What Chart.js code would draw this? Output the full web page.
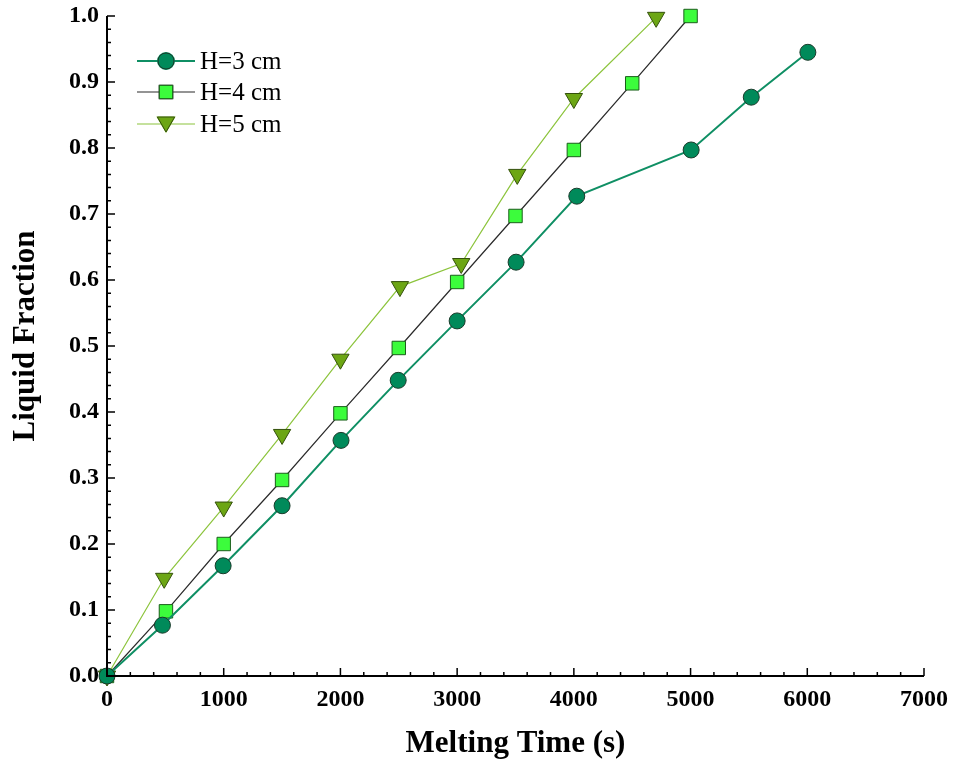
<!DOCTYPE html>
<html>
<head>
<meta charset="utf-8">
<script src="https://cdn.jsdelivr.net/npm/chart.js@4"></script>
<style>
  html, body { margin: 0; padding: 0; background: #fff; }
  #wrap { width: 955px; height: 763px; }
</style>
</head>
<body>
<div id="wrap"><canvas id="chart" width="955" height="763"></canvas></div>
<script>
// data
const timeH3 = [0, 475, 995, 1500, 2005, 2495, 3000, 3505, 4025, 5005, 5520, 6005];
const fracH3 = [0, 0.077, 0.167, 0.258, 0.357, 0.448, 0.538, 0.627, 0.727, 0.797, 0.877, 0.945];

const timeH4 = [0, 505, 1000, 1500, 2000, 2500, 3000, 3500, 4000, 4500, 5000];
const fracH4 = [0, 0.098, 0.2, 0.297, 0.398, 0.497, 0.597, 0.697, 0.797, 0.898, 1.0];

const timeH5 = [0, 490, 1000, 1500, 2000, 2510, 3035, 3515, 4000, 4705];
const fracH5 = [0, 0.148, 0.256, 0.366, 0.48, 0.59, 0.625, 0.76, 0.875, 0.998];

const seriesLabels = ['H=3 cm', 'H=4 cm', 'H=5 cm'];
const xTicks = [0, 1000, 2000, 3000, 4000, 5000, 6000, 7000];
const yTicks = [0, 0.1, 0.2, 0.3, 0.4, 0.5, 0.6, 0.7, 0.8, 0.9, 1.0];
const xTitle = 'Melting Time (s)';
const yTitle = 'Liquid Fraction';

function toPoints(xs, ys) {
    return xs.map((x, i) => ({ x: x, y: ys[i] }));
}

const serif = '"Liberation Serif", "Times New Roman", serif';

// axis lines, inward major/minor ticks, y title, legend
const axesPlugin = {
    id: 'axesPlugin',
    afterDraw(chart) {
        const ctx = chart.ctx;
        const xs = chart.scales.x;
        const ys = chart.scales.y;
        const area = chart.chartArea;
        ctx.save();
        ctx.strokeStyle = '#000';
        ctx.lineWidth = 2;
        ctx.beginPath();
        ctx.moveTo(area.left, area.top);
        ctx.lineTo(area.left, area.bottom);
        ctx.lineTo(area.right, area.bottom);
        ctx.stroke();

        ctx.lineWidth = 1.5;
        ctx.beginPath();
        for (let v = 0; v <= 7000; v += 200) {
            const px = xs.getPixelForValue(v);
            const len = v % 1000 === 0 ? 8 : 4;
            ctx.moveTo(px, area.bottom);
            ctx.lineTo(px, area.bottom - len);
        }
        for (let i = 0; i <= 50; i++) {
            const py = ys.getPixelForValue(i * 0.02);
            const len = i % 5 === 0 ? 8 : 4;
            ctx.moveTo(area.left, py);
            ctx.lineTo(area.left + len, py);
        }
        ctx.stroke();

        // y axis title
        ctx.save();
        ctx.translate(26, 336);
        ctx.rotate(-Math.PI / 2);
        ctx.fillStyle = '#000';
        ctx.font = 'bold 31px ' + serif;
        ctx.textAlign = 'center';
        ctx.textBaseline = 'middle';
        ctx.fillText(yTitle, 0, 0);
        ctx.restore();

        // legend
        const lx = 137, lw = 58;
        const rows = [61, 92, 124];
        chart.data.datasets.forEach((ds, i) => {
            const y = rows[i];
            ctx.strokeStyle = ds.borderColor;
            ctx.lineWidth = ds.borderWidth;
            ctx.beginPath();
            ctx.moveTo(lx, y);
            ctx.lineTo(lx + lw, y);
            ctx.stroke();
            Chart.helpers.drawPoint(ctx, {
                pointStyle: ds.pointStyle,
                rotation: ds.pointRotation || 0,
                radius: ds.pointRadius,
                borderWidth: 1
            }, lx + lw / 2, y + (ds.pointStyle === 'triangle' ? -2 : 0));
            ctx.fillStyle = ds.pointBackgroundColor;
            ctx.strokeStyle = ds.pointBorderColor;
            ctx.lineWidth = 1;
            ctx.fill();
            ctx.stroke();
            ctx.fillStyle = '#000';
            ctx.font = '25px ' + serif;
            ctx.textBaseline = 'middle';
            ctx.textAlign = 'left';
            ctx.fillText(ds.label, lx + lw + 5, y + 1);
        });
        ctx.restore();
    }
};

new Chart(document.getElementById('chart'), {
    type: 'scatter',
    data: {
        datasets: [
            {
                label: seriesLabels[0],
                data: toPoints(timeH3, fracH3),
                showLine: true,
                borderColor: '#0f8f64',
                borderWidth: 2,
                pointStyle: 'circle',
                pointRadius: 8,
                pointBackgroundColor: '#008a5a',
                pointBorderColor: '#1a3a2a',
                pointBorderWidth: 1,
                clip: false
            },
            {
                label: seriesLabels[1],
                data: toPoints(timeH4, fracH4),
                showLine: true,
                borderColor: '#2a2a2a',
                borderWidth: 1.2,
                pointStyle: 'rect',
                pointRadius: 9.5,
                pointBackgroundColor: '#3cfc3c',
                pointBorderColor: '#1b5e1b',
                pointBorderWidth: 1,
                clip: false
            },
            {
                label: seriesLabels[2],
                data: toPoints(timeH5, fracH5),
                showLine: true,
                borderColor: '#8cc43c',
                borderWidth: 1.2,
                pointStyle: 'triangle',
                pointRotation: 180,
                pointRadius: 10,
                pointBackgroundColor: '#6ca614',
                pointBorderColor: '#34500c',
                pointBorderWidth: 1,
                clip: false
            }
        ]
    },
    options: {
        responsive: false,
        animation: false,
        layout: { padding: { top: 16, right: 31, left: 0, bottom: 0 } },
        plugins: {
            legend: { display: false },
            tooltip: { enabled: false }
        },
        scales: {
            x: {
                type: 'linear',
                min: 0,
                max: 7000,
                afterBuildTicks: s => { s.ticks = xTicks.map(v => ({ value: v })); },
                afterFit: s => { s.height = 87; s.paddingLeft = 0; s.paddingRight = 0; },
                grid: { display: false, drawTicks: false },
                border: { display: false },
                ticks: {
                    color: '#000',
                    padding: 9,
                    maxRotation: 0,
                    callback: v => String(v),
                    font: { family: serif, size: 24, weight: 'bold' }
                },
                title: {
                    display: true,
                    text: xTitle,
                    color: '#000',
                    padding: { top: 16, bottom: 0 },
                    font: { family: serif, size: 31, weight: 'bold' }
                }
            },
            y: {
                type: 'linear',
                min: 0,
                max: 1.0,
                afterBuildTicks: s => { s.ticks = yTicks.map(v => ({ value: v })); },
                afterFit: s => { s.width = 107; s.paddingTop = 0; s.paddingBottom = 0; },
                grid: { display: false, drawTicks: false },
                border: { display: false },
                ticks: {
                    color: '#000',
                    padding: 8,
                    callback: v => v.toFixed(1),
                    font: { family: serif, size: 24, weight: 'bold' }
                },
                title: { display: false }
            }
        }
    },
    plugins: [axesPlugin]
});
</script>
</body>
</html>
